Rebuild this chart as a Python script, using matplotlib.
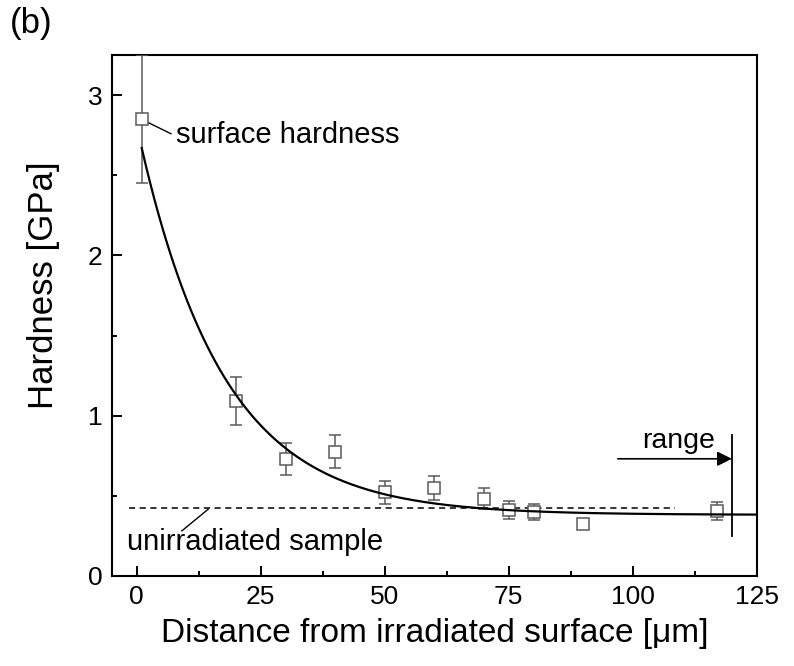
import numpy as np
import matplotlib.pyplot as plt
from matplotlib.ticker import MultipleLocator

plt.rcParams['font.family'] = ['Liberation Sans', 'DejaVu Sans']

# measured hardness vs depth
depth = [1, 20, 30, 40, 50, 60, 70, 75, 80, 90, 117]
hardness = [2.85, 1.09, 0.73, 0.775, 0.52, 0.55, 0.48, 0.41, 0.40, 0.32, 0.405]
hardness_err = [0.40, 0.15, 0.10, 0.105, 0.073, 0.075, 0.065, 0.055, 0.05, 0.03, 0.055]

# exponential decay fit: y = y0 + A*exp(-x/t)
fit_y0 = 0.38
fit_A = 2.43
fit_t = 17.0
fit_start = 1
fit_end = 125

# reference level of unirradiated sample
unirr_level = 0.425
unirr_span = [-1.5, 108.5]

# ion range
range_x = 120

fig = plt.figure(figsize=(7.94, 6.66), dpi=100)
ax = fig.add_axes([0.141, 0.1356, 0.812, 0.7814])

ax.errorbar(depth, hardness, yerr=hardness_err, fmt='s', ms=8.5, mfc='white',
            mec='#5a5a5a', mew=1.1, ecolor='#5a5a5a', elinewidth=1.1,
            capsize=4.5, capthick=1.1, zorder=3)

xf = np.linspace(fit_start, fit_end, 300)
ax.plot(xf, fit_y0 + fit_A * np.exp(-xf / fit_t), color='black', lw=1.6, zorder=4)

ax.plot(unirr_span, [unirr_level, unirr_level], color='black', lw=1.1,
        dashes=(4, 3), zorder=2)

# range marker
ax.plot([range_x, range_x], [0.25, 0.88], color='black', lw=1.3)
ax.annotate('', xy=(range_x, 0.73), xytext=(97, 0.73),
            arrowprops=dict(arrowstyle='-|>', color='black', lw=1.2,
                            mutation_scale=22, shrinkA=0, shrinkB=0))
ax.text(116.6, 0.76, 'range', fontsize=20.5, ha='right', va='bottom')

# labels with leader lines
ax.plot([2.3, 6.9], [2.83, 2.76], color='black', lw=1.0)
ax.text(8.0, 2.75, 'surface hardness', fontsize=21, ha='left', va='center')
ax.plot([9.1, 14.4], [0.28, 0.415], color='black', lw=1.0)
ax.text(-2.0, 0.21, 'unirradiated sample', fontsize=21, ha='left', va='center')

ax.set_xlim(-5, 125)
ax.set_ylim(0, 3.25)
ax.xaxis.set_major_locator(MultipleLocator(25))
ax.xaxis.set_minor_locator(MultipleLocator(12.5))
ax.yaxis.set_major_locator(MultipleLocator(1))
ax.yaxis.set_minor_locator(MultipleLocator(0.5))
ax.tick_params(which='both', direction='in', width=1.4, labelsize=19, pad=7)
ax.tick_params(which='major', length=7)
ax.tick_params(which='minor', length=3.5)
for s in ax.spines.values():
    s.set_linewidth(1.5)

ax.set_xlabel('Distance from irradiated surface [\u03bcm]', fontsize=24, labelpad=6)
ax.set_ylabel('Hardness [GPa]', fontsize=25)
ax.yaxis.set_label_coords(-0.08, 0.558)

fig.text(0.013, 0.965, '(b)', fontsize=25, ha='left', va='center')

fig.savefig('out.png', dpi=100)
